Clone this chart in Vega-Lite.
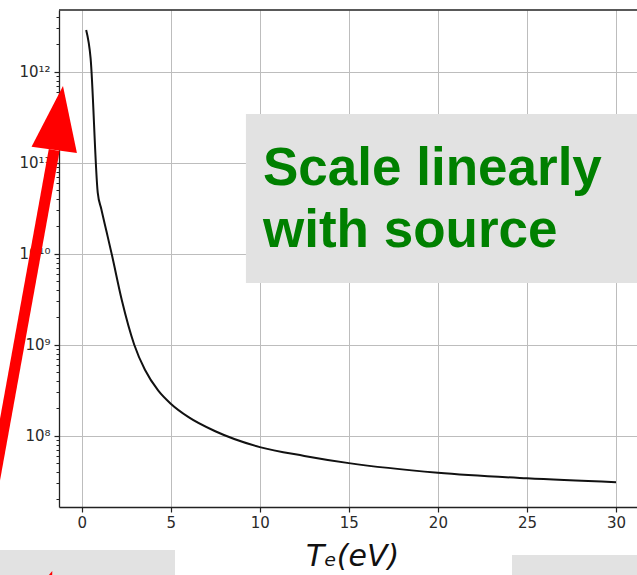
{
  "$schema": "https://vega.github.io/schema/vega-lite/v6.json",
  "width": 578,
  "height": 497,
  "padding": {"left": 59, "top": 10, "right": 0, "bottom": 68},
  "autosize": {"type": "none"},
  "background": "white",
  "config": {
    "view": {"stroke": null},
    "axis": {"labelFont": "DejaVu Sans", "titleFont": "DejaVu Sans"}
  },
  "resolve": {"axis": {"x": "independent", "y": "independent"}},
  "layer": [
    {
      "data": {
        "values": [
          {"Te": 0.25, "value": 2.87e12},
          {"Te": 0.5, "value": 1.4e12},
          {"Te": 0.9, "value": 4.7e10},
          {"Te": 1.1, "value": 3.1e10},
          {"Te": 1.4, "value": 1.73e10},
          {"Te": 1.7, "value": 9.6e9},
          {"Te": 2.25, "value": 3.1e9},
          {"Te": 2.95, "value": 1.0e9},
          {"Te": 3.55, "value": 5.3e8},
          {"Te": 4.3, "value": 3.13e8},
          {"Te": 5, "value": 2.25e8},
          {"Te": 6, "value": 1.6e8},
          {"Te": 7.5, "value": 1.12e8},
          {"Te": 10, "value": 7.5e7},
          {"Te": 12.5, "value": 6.0e7},
          {"Te": 15, "value": 5.0e7},
          {"Te": 20, "value": 3.92e7},
          {"Te": 25, "value": 3.4e7},
          {"Te": 30, "value": 3.08e7}
        ]
      },
      "mark": {"type": "line", "color": "#111111", "strokeWidth": 2, "interpolate": "monotone"},
      "encoding": {
        "x": {
          "field": "Te", "type": "quantitative",
          "scale": {"domain": [-1.275, 31.18], "nice": false, "zero": false},
          "axis": {
            "orient": "bottom",
            "values": [0, 5, 10, 15, 20, 25, 30],
            "format": "d",
            "grid": true, "gridColor": "#bdbdbd", "gridWidth": 1,
            "domainColor": "#222222", "domainWidth": 1.3,
            "tickColor": "#222222", "tickSize": 5, "tickWidth": 1.2,
            "labelFontSize": 15, "labelColor": "#2a2a2a", "labelPadding": 3, "labelFlush": false,
            "title": "Tₑ(eV)",
            "titleFontSize": 30, "titleFontStyle": "italic", "titleFontWeight": "normal",
            "titleColor": "#111111", "titleBaseline": "alphabetic", "titleY": 58, "titleX": 293
          }
        },
        "y": {
          "field": "value", "type": "quantitative",
          "scale": {"type": "log", "domain": [1.647e7, 4.77e12], "nice": false},
          "axis": {
            "orient": "left",
            "values": [1e8, 1e9, 1e10, 1e11, 1e12],
            "labelExpr": "'10' + ['⁸','⁹','¹⁰','¹¹','¹²'][round(log(datum.value)/LN10) - 8]",
            "grid": true, "gridColor": "#bdbdbd", "gridWidth": 1,
            "domainColor": "#222222", "domainWidth": 1.3,
            "tickColor": "#222222", "tickSize": 5, "tickWidth": 1.2,
            "labelFontSize": 15, "labelColor": "#2a2a2a", "labelPadding": 4,
            "title": null
          }
        }
      }
    },
    {
      "data": {"values": [{}]},
      "mark": {"type": "rule", "color": "#222222", "strokeWidth": 1.4},
      "encoding": {
        "x": {"datum": -1.275, "type": "quantitative", "scale": {"domain": [-1.275, 31.18], "nice": false, "zero": false}, "axis": null},
        "x2": {"datum": 31.18},
        "y": {
          "datum": 4.77e12, "type": "quantitative",
          "scale": {"type": "log", "domain": [1.647e7, 4.77e12], "nice": false},
          "axis": {
            "orient": "left",
            "values": [2e7, 3e7, 4e7, 5e7, 6e7, 7e7, 8e7, 9e7,
                       2e8, 3e8, 4e8, 5e8, 6e8, 7e8, 8e8, 9e8,
                       2e9, 3e9, 4e9, 5e9, 6e9, 7e9, 8e9, 9e9,
                       2e10, 3e10, 4e10, 5e10, 6e10, 7e10, 8e10, 9e10,
                       2e11, 3e11, 4e11, 5e11, 6e11, 7e11, 8e11, 9e11,
                       2e12, 3e12, 4e12],
            "labels": false, "grid": false, "domain": false,
            "tickColor": "#222222", "tickSize": 3, "tickWidth": 1,
            "title": null
          }
        }
      }
    },
    {
      "data": {"values": [{}]},
      "mark": {"type": "rect", "color": "#e2e2e2"},
      "encoding": {
        "x": {"datum": 9.22, "type": "quantitative", "scale": {"domain": [-1.275, 31.18], "nice": false, "zero": false}, "axis": null},
        "x2": {"datum": 33},
        "y": {"datum": 3.43e11, "type": "quantitative", "scale": {"type": "log", "domain": [1.647e7, 4.77e12], "nice": false}, "axis": null},
        "y2": {"datum": 4.77e9}
      }
    },
    {
      "data": {"values": [{}]},
      "mark": {"type": "text", "text": "Scale linearly", "font": "Liberation Sans", "fontWeight": "bold", "fontSize": 53, "color": "#008000", "align": "left", "baseline": "alphabetic"},
      "encoding": {
        "x": {"datum": 10.18, "type": "quantitative", "scale": {"domain": [-1.275, 31.18], "nice": false, "zero": false}, "axis": null},
        "y": {"datum": 5.69e10, "type": "quantitative", "scale": {"type": "log", "domain": [1.647e7, 4.77e12], "nice": false}, "axis": null}
      }
    },
    {
      "data": {"values": [{}]},
      "mark": {"type": "text", "text": "with source", "font": "Liberation Sans", "fontWeight": "bold", "fontSize": 53, "color": "#008000", "align": "left", "baseline": "alphabetic"},
      "encoding": {
        "x": {"datum": 10.18, "type": "quantitative", "scale": {"domain": [-1.275, 31.18], "nice": false, "zero": false}, "axis": null},
        "y": {"datum": 1.19e10, "type": "quantitative", "scale": {"type": "log", "domain": [1.647e7, 4.77e12], "nice": false}, "axis": null}
      }
    },
    {
      "data": {"values": [{}]},
      "mark": {"type": "rect", "color": "#e2e2e2"},
      "encoding": {
        "x": {"datum": -5, "type": "quantitative", "scale": {"domain": [-1.275, 31.18], "nice": false, "zero": false}, "axis": null},
        "x2": {"datum": 5.24},
        "y": {"datum": 5.55e6, "type": "quantitative", "scale": {"type": "log", "domain": [1.647e7, 4.77e12], "nice": false}, "axis": null},
        "y2": {"datum": 1e6}
      }
    },
    {
      "data": {"values": [{}]},
      "mark": {"type": "rect", "color": "#e2e2e2"},
      "encoding": {
        "x": {"datum": 24.16, "type": "quantitative", "scale": {"domain": [-1.275, 31.18], "nice": false, "zero": false}, "axis": null},
        "x2": {"datum": 33},
        "y": {"datum": 4.89e6, "type": "quantitative", "scale": {"type": "log", "domain": [1.647e7, 4.77e12], "nice": false}, "axis": null},
        "y2": {"datum": 1e6}
      }
    },
    {
      "data": {"values": [{}]},
      "mark": {"type": "rule", "color": "#ff0000", "strokeWidth": 11, "strokeCap": "butt"},
      "encoding": {
        "x": {"datum": -5.71, "type": "quantitative", "scale": {"domain": [-1.275, 31.18], "nice": false, "zero": false}, "axis": null},
        "x2": {"datum": -1.544},
        "y": {"datum": 4.31e6, "type": "quantitative", "scale": {"type": "log", "domain": [1.647e7, 4.77e12], "nice": false}, "axis": null},
        "y2": {"datum": 1.38e11}
      }
    },
    {
      "data": {"values": [{}]},
      "mark": {"type": "point", "shape": "M0,-1L0.71,1L-0.71,1Z", "size": 4160, "angle": 7.8, "filled": true, "color": "#ff0000", "opacity": 1, "strokeWidth": 0},
      "encoding": {
        "x": {"datum": -1.297, "type": "quantitative", "scale": {"domain": [-1.275, 31.18], "nice": false, "zero": false}, "axis": null},
        "y": {"datum": 3.10e11, "type": "quantitative", "scale": {"type": "log", "domain": [1.647e7, 4.77e12], "nice": false}, "axis": null}
      }
    },
    {
      "data": {"values": [{}]},
      "mark": {"type": "point", "shape": "M0,-1L0.71,1L-0.71,1Z", "size": 100, "angle": 20, "filled": true, "color": "#ff0000", "opacity": 1, "strokeWidth": 0},
      "encoding": {
        "x": {"datum": -1.75, "type": "quantitative", "scale": {"domain": [-1.275, 31.18], "nice": false, "zero": false}, "axis": null},
        "y": {"datum": 2.9e6, "type": "quantitative", "scale": {"type": "log", "domain": [1.647e7, 4.77e12], "nice": false}, "axis": null}
      }
    }
  ]
}
